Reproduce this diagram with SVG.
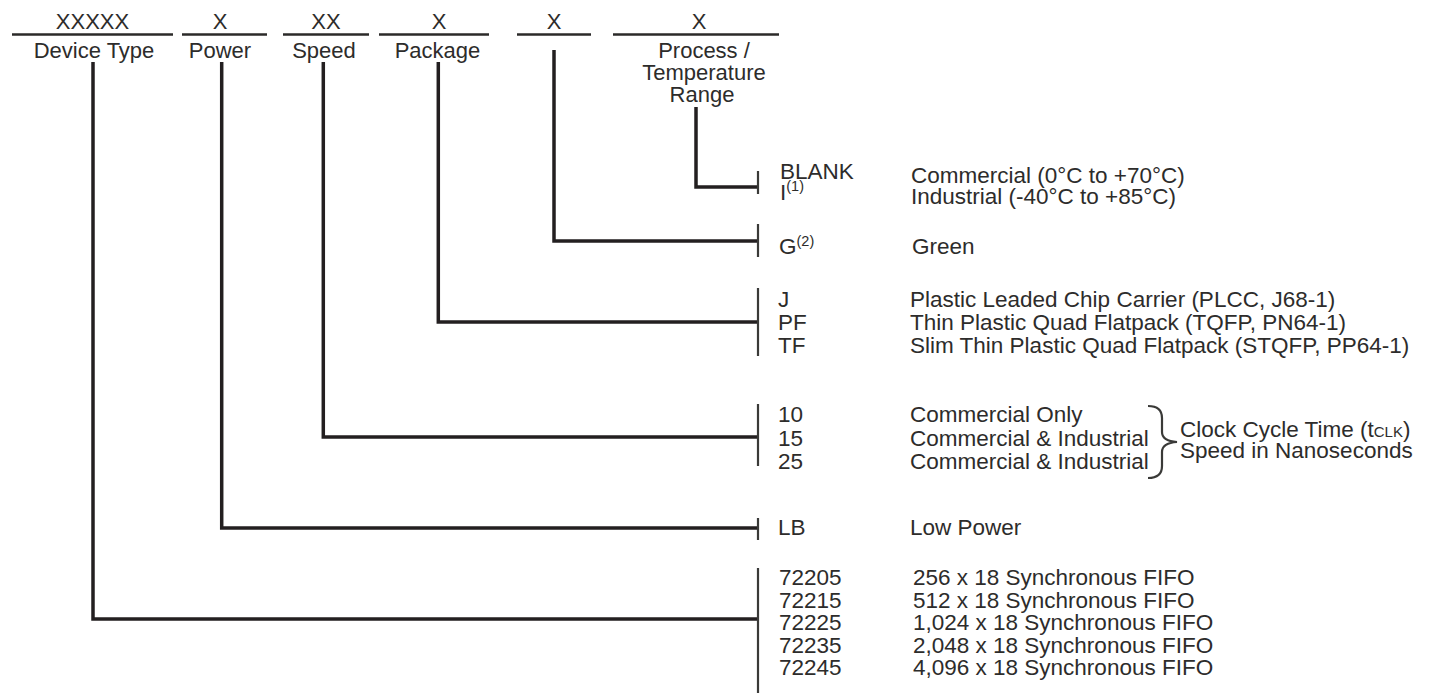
<svg xmlns="http://www.w3.org/2000/svg" width="1429" height="693" viewBox="0 0 1429 693">
<style>
text{font-family:"Liberation Sans",Arial,sans-serif;font-size:22.5px;fill:#2d2c2b}
.t{font-size:22px}
.m{text-anchor:middle}
.sup{font-size:14.5px}
.u{stroke:#2b2a29;stroke-width:2.5;fill:none}
.c{stroke:#231f20;stroke-width:3.5;fill:none}
.b{stroke:#3a3a38;stroke-width:2.2;fill:none}
</style>
<rect width="1429" height="693" fill="#fff"/>
<g id="field-device">
<text class="m t" x="92.5" y="29">XXXXX</text>
<line class="u" x1="12" y1="34.5" x2="173" y2="34.5"/>
<text class="m t" x="94" y="58">Device Type</text>
</g>
<g id="field-power">
<text class="m t" x="220" y="29">X</text>
<line class="u" x1="182" y1="34.5" x2="267" y2="34.5"/>
<text class="m t" x="220" y="58">Power</text>
</g>
<g id="field-speed">
<text class="m t" x="326" y="29">XX</text>
<line class="u" x1="283" y1="34.5" x2="369" y2="34.5"/>
<text class="m t" x="324" y="58">Speed</text>
</g>
<g id="field-package">
<text class="m t" x="439" y="29">X</text>
<line class="u" x1="379" y1="34.5" x2="489" y2="34.5"/>
<text class="m t" x="437.5" y="58">Package</text>
</g>
<g id="field-green">
<text class="m t" x="554" y="29">X</text>
<line class="u" x1="517" y1="34.5" x2="591" y2="34.5"/>
</g>
<g id="field-process">
<text class="m t" x="699" y="29">X</text>
<line class="u" x1="613" y1="34.5" x2="779" y2="34.5"/>
<text class="m t" x="704" y="58">Process /</text>
<text class="m t" x="704" y="80">Temperature</text>
<text class="m t" x="702" y="102">Range</text>
</g>
<g id="connectors">
<path class="c" d="M93,62 V619 H757"/>
<path class="c" d="M221.7,62 V528 H757"/>
<path class="c" d="M323.3,62 V437 H757"/>
<path class="c" d="M438.3,62 V322 H757"/>
<path class="c" d="M554,50 V241 H757"/>
<path class="c" d="M696,107 V187 H757"/>
<line class="b" x1="758" y1="171" x2="758" y2="194"/>
<line class="b" x1="758" y1="224" x2="758" y2="257"/>
<line class="b" x1="758" y1="288" x2="758" y2="356"/>
<line class="b" x1="758" y1="404" x2="758" y2="466"/>
<line class="b" x1="758" y1="518" x2="758" y2="540"/>
<line class="b" x1="758" y1="568" x2="758" y2="693"/>
</g>
<g id="opt-process">
<text x="780" y="179">BLANK</text>
<text x="780" y="200">I<tspan class="sup" dy="-9">(1)</tspan></text>
<text x="911" y="183">Commercial (0°C to +70°C)</text>
<text x="911" y="204">Industrial (-40°C to +85°C)</text>
</g>
<g id="opt-green">
<text x="779" y="254">G<tspan class="sup" dy="-8">(2)</tspan></text>
<text x="912" y="254">Green</text>
</g>
<g id="opt-package">
<text x="778" y="307">J</text>
<text x="778" y="330">PF</text>
<text x="778" y="353">TF</text>
<text x="910" y="307">Plastic Leaded Chip Carrier (PLCC, J68-1)</text>
<text x="910" y="330">Thin Plastic Quad Flatpack (TQFP, PN64-1)</text>
<text x="910" y="353">Slim Thin Plastic Quad Flatpack (STQFP, PP64-1)</text>
</g>
<g id="opt-speed">
<text x="778" y="422">10</text>
<text x="778" y="446">15</text>
<text x="778" y="469">25</text>
<text x="910" y="422">Commercial Only</text>
<text x="910" y="446">Commercial &amp; Industrial</text>
<text x="910" y="469">Commercial &amp; Industrial</text>
<path class="b" d="M1148,406 Q1162,406 1162,418 V432 Q1162,441 1177,442 Q1162,443 1162,452 V466 Q1162,478 1148,478"/>
<text x="1180" y="437">Clock Cycle Time (t<tspan font-size="15">CLK</tspan>)</text>
<text x="1180" y="458">Speed in Nanoseconds</text>
</g>
<g id="opt-power">
<text x="778" y="535">LB</text>
<text x="910" y="535">Low Power</text>
</g>
<g id="opt-device">
<text x="779" y="585">72205</text>
<text x="779" y="608">72215</text>
<text x="779" y="630">72225</text>
<text x="779" y="653">72235</text>
<text x="779" y="675">72245</text>
<text x="913" y="585">256 x 18 Synchronous FIFO</text>
<text x="913" y="608">512 x 18 Synchronous FIFO</text>
<text x="913" y="630">1,024 x 18 Synchronous FIFO</text>
<text x="913" y="653">2,048 x 18 Synchronous FIFO</text>
<text x="913" y="675">4,096 x 18 Synchronous FIFO</text>
</g>
</svg>
